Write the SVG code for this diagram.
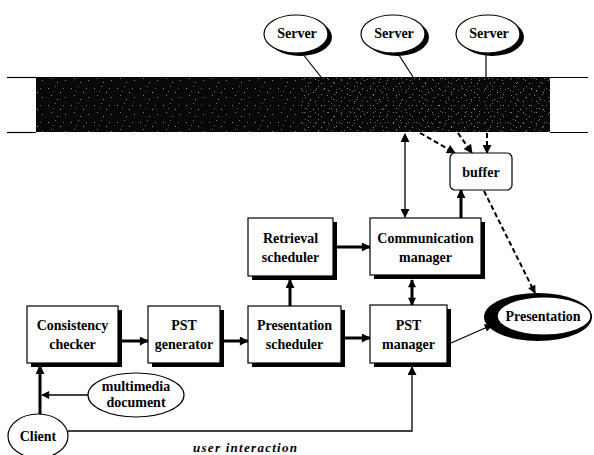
<svg xmlns="http://www.w3.org/2000/svg" width="594" height="455" viewBox="0 0 594 455">
<style>
  text { font-family: "Liberation Serif", "Times New Roman", serif; font-weight: bold; font-size: 14px; fill: #000; text-anchor: middle; }
  .box { fill: #fff; stroke: #000; stroke-width: 1.2; }
  .shadow { fill: #000; }
  .ell { fill: #fff; stroke: #000; stroke-width: 1.2; }
  .thick { stroke: #000; stroke-width: 3; fill: none; }
  .thin { stroke: #000; stroke-width: 1.3; fill: none; }
  .dash { stroke: #000; stroke-width: 2; stroke-dasharray: 5 3; fill: none; }
  .edge { stroke: #000; stroke-width: 1.2; fill: none; }
  .ui { font-style: italic; font-size: 13px; }
</style>
<defs>
  <marker id="ah" viewBox="0 0 10 10" refX="9" refY="5" markerWidth="10" markerHeight="9" markerUnits="userSpaceOnUse" orient="auto-start-reverse">
    <path d="M0,0 L10,5 L0,10 z" fill="#000"/>
  </marker>
  <marker id="ahs" viewBox="0 0 10 10" refX="9" refY="5" markerWidth="9" markerHeight="8" markerUnits="userSpaceOnUse" orient="auto-start-reverse">
    <path d="M0,0 L10,5 L0,10 z" fill="#000"/>
  </marker>
  <pattern id="noise" width="23" height="17" patternUnits="userSpaceOnUse">
    <rect width="23" height="17" fill="#080808"/>
    <rect x="2" y="3" width="1" height="1" fill="#8a8a8a"/>
    <rect x="9" y="1" width="1" height="1" fill="#6a6a6a"/>
    <rect x="14" y="7" width="1" height="1" fill="#9a9a9a"/>
    <rect x="19" y="12" width="1" height="1" fill="#7a7a7a"/>
    <rect x="5" y="10" width="1" height="1" fill="#777"/>
    <rect x="11" y="14" width="1" height="1" fill="#888"/>
    <rect x="17" y="3" width="1" height="1" fill="#666"/>
    <rect x="7" y="6" width="1" height="1" fill="#5a5a5a"/>
  </pattern>
  <pattern id="noise2" width="13" height="11" patternUnits="userSpaceOnUse">
    <rect x="3" y="2" width="1" height="1" fill="#9a9a9a"/>
    <rect x="9" y="6" width="1" height="1" fill="#aaa"/>
    <rect x="6" y="9" width="1" height="1" fill="#888"/>
    <rect x="11" y="1" width="1" height="1" fill="#777"/>
  </pattern>
</defs>

<!-- network band -->
<g id="network">
  <rect x="36" y="77" width="514" height="55" fill="url(#noise)"/>
  <rect x="300" y="77" width="250" height="55" fill="url(#noise2)" opacity="0.8"/>
  <line class="edge" x1="7" y1="77.5" x2="36" y2="77.5"/>
  <line class="edge" x1="7" y1="132.5" x2="36" y2="132.5"/>
  <line class="edge" x1="550" y1="77.5" x2="588" y2="77.5"/>
  <line class="edge" x1="550" y1="132.5" x2="588" y2="132.5"/>
</g>

<!-- connectors -->
<g id="connectors">
  <!-- server links -->
  <line class="edge" x1="302" y1="53" x2="321" y2="77"/>
  <line class="edge" x1="397" y1="52" x2="413" y2="77"/>
  <line class="edge" x1="486" y1="52" x2="486" y2="77"/>
  <!-- network to buffer dashed -->
  <line class="dash" x1="420" y1="133" x2="455" y2="153" marker-end="url(#ah)"/>
  <line class="dash" x1="458" y1="133" x2="472" y2="153" marker-end="url(#ah)"/>
  <line class="dash" x1="487" y1="133" x2="487" y2="153" marker-end="url(#ah)"/>
  <!-- buffer to presentation dashed -->
  <line class="dash" x1="484" y1="191" x2="535" y2="293" stroke-width="1.5" marker-end="url(#ahs)"/>
  <!-- network <-> communication manager -->
  <line class="thin" stroke-width="2" x1="405" y1="134" x2="405" y2="217" marker-start="url(#ah)" marker-end="url(#ah)"/>
  <!-- comm manager -> buffer -->
  <line class="thick" x1="461" y1="218" x2="461" y2="190" marker-end="url(#ah)"/>
  <!-- retrieval -> comm -->
  <line class="thick" x1="337" y1="247" x2="370" y2="247" marker-end="url(#ah)"/>
  <!-- comm <-> PST manager -->
  <line class="thick" x1="412" y1="280" x2="412" y2="305" marker-start="url(#ahs)" marker-end="url(#ahs)"/>
  <!-- consistency -> PST generator -->
  <line class="thick" x1="122" y1="341" x2="148" y2="341" marker-end="url(#ah)"/>
  <!-- PST generator -> presentation scheduler -->
  <line class="thick" x1="224" y1="341" x2="248" y2="341" marker-end="url(#ah)"/>
  <!-- presentation scheduler -> PST manager -->
  <line class="thick" x1="345" y1="338" x2="370" y2="338" marker-end="url(#ah)"/>
  <!-- presentation scheduler -> retrieval scheduler -->
  <line class="thick" x1="290" y1="306" x2="290" y2="280" marker-end="url(#ah)"/>
  <!-- PST manager -> Presentation -->
  <line class="thin" x1="451" y1="343" x2="492" y2="325" marker-end="url(#ahs)"/>
  <!-- client -> consistency checker -->
  <line class="thick" x1="40" y1="414" x2="40" y2="366" marker-end="url(#ah)"/>
  <!-- multimedia document -> line -->
  <line class="thin" x1="88" y1="395" x2="42" y2="395" marker-end="url(#ahs)"/>
  <!-- client -> PST manager (user interaction) -->
  <polyline class="thin" points="68,431 412,431 412,367" marker-end="url(#ah)"/>
</g>

<!-- servers -->
<g id="server1">
  <ellipse class="shadow" cx="300" cy="37" rx="32" ry="19"/>
  <ellipse class="ell" cx="296" cy="34" rx="32" ry="19"/>
  <text x="297" y="38">Server</text>
</g>
<g id="server2">
  <ellipse class="shadow" cx="397" cy="37" rx="32" ry="19"/>
  <ellipse class="ell" cx="393" cy="34" rx="32" ry="19"/>
  <text x="394" y="38">Server</text>
</g>
<g id="server3">
  <ellipse class="shadow" cx="492" cy="37" rx="32" ry="19"/>
  <ellipse class="ell" cx="488" cy="34" rx="32" ry="19"/>
  <text x="489" y="38">Server</text>
</g>

<!-- buffer -->
<g id="buffer">
  <rect class="box" x="450" y="153" width="62" height="37" rx="5"/>
  <text x="481" y="177">buffer</text>
</g>

<!-- retrieval scheduler -->
<g id="retrieval-scheduler">
  <rect class="shadow" x="252" y="222" width="85" height="58"/>
  <rect class="box" x="248" y="218" width="85" height="58"/>
  <text x="290.5" y="243">Retrieval</text>
  <text x="290.5" y="262">scheduler</text>
</g>

<!-- communication manager -->
<g id="communication-manager">
  <rect class="shadow" x="374" y="222" width="111" height="57"/>
  <rect class="box" x="370" y="218" width="111" height="57"/>
  <text x="425.5" y="243">Communication</text>
  <text x="425.5" y="262">manager</text>
</g>

<!-- consistency checker -->
<g id="consistency-checker">
  <rect class="shadow" x="31" y="310" width="91" height="57"/>
  <rect class="box" x="27" y="306" width="91" height="57"/>
  <text x="72.5" y="330">Consistency</text>
  <text x="72.5" y="349">checker</text>
</g>

<!-- PST generator -->
<g id="pst-generator">
  <rect class="shadow" x="152" y="310" width="72" height="57"/>
  <rect class="box" x="148" y="306" width="72" height="57"/>
  <text x="184" y="330">PST</text>
  <text x="184" y="349">generator</text>
</g>

<!-- presentation scheduler -->
<g id="presentation-scheduler">
  <rect class="shadow" x="252" y="310" width="93" height="57"/>
  <rect class="box" x="248" y="306" width="93" height="57"/>
  <text x="294.5" y="330">Presentation</text>
  <text x="294.5" y="349">scheduler</text>
</g>

<!-- PST manager -->
<g id="pst-manager">
  <rect class="shadow" x="374" y="309" width="77" height="58"/>
  <rect class="box" x="370" y="305" width="77" height="58"/>
  <text x="408.5" y="330">PST</text>
  <text x="408.5" y="349">manager</text>
</g>

<!-- Presentation -->
<g id="presentation">
  <ellipse class="shadow" cx="538" cy="317" rx="54" ry="24"/>
  <ellipse class="ell" cx="544" cy="316" rx="47" ry="19"/>
  <text x="543" y="321">Presentation</text>
</g>

<!-- multimedia document -->
<g id="multimedia-document">
  <ellipse class="ell" cx="136" cy="395" rx="48" ry="22"/>
  <text x="136" y="391">multimedia</text>
  <text x="136" y="407">document</text>
</g>

<!-- client -->
<g id="client">
  <ellipse class="ell" cx="38" cy="436" rx="30" ry="22"/>
  <text x="38" y="441">Client</text>
</g>

<text class="ui" x="245" y="452" textLength="104">user  interaction</text>
</svg>
